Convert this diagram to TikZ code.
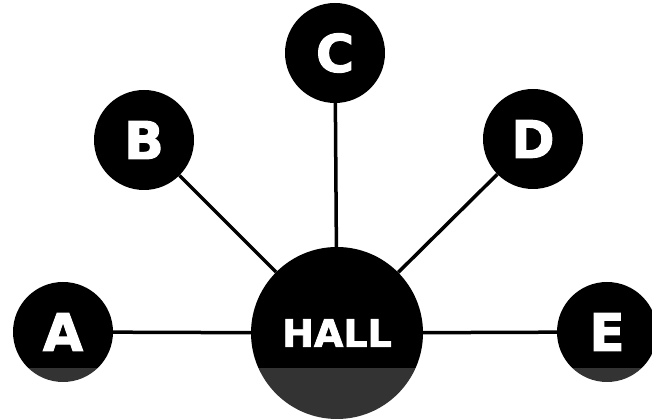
\documentclass[tikz,border=0pt]{standalone}
\usepackage{fontspec}
\setmainfont{DejaVu Sans}
\newfontfamily\heavyfont{DejaVu Sans Bold}[FakeBold=2]
\usepackage{tikz}

\tikzset{
	room/.style={circle,fill=black,text=white,inner sep=0pt,minimum size=100pt,font=\fontsize{52}{52}\selectfont\heavyfont},
	hallroom/.style={room,minimum size=172pt,font=\fontsize{38}{38}\selectfont\heavyfont},
	link/.style={line width=3.5pt}
}

\begin{document}
\begin{tikzpicture}[x=1pt,y=1pt]
		\useasboundingbox (0,0) rectangle (652,419);
		%hall in the middle
		\node[hallroom] (hall) at (337,86) {HALL};
		%rooms round it
		\foreach \name/\pos in {A/{(63,87)},B/{(144,279)},C/{(335,366)},D/{(533,280)},E/{(607,87)}}{
			\node[room] (\name) at \pos {\name};
		}
		%corridors
		\foreach \name in {A,B,C,D,E}{
			\draw[link] (hall) -- (\name);
		}
		%lighter strip at the bottom
		\fill[white,opacity=0.2] (0,0) rectangle (652,51);
\end{tikzpicture}
\end{document}
